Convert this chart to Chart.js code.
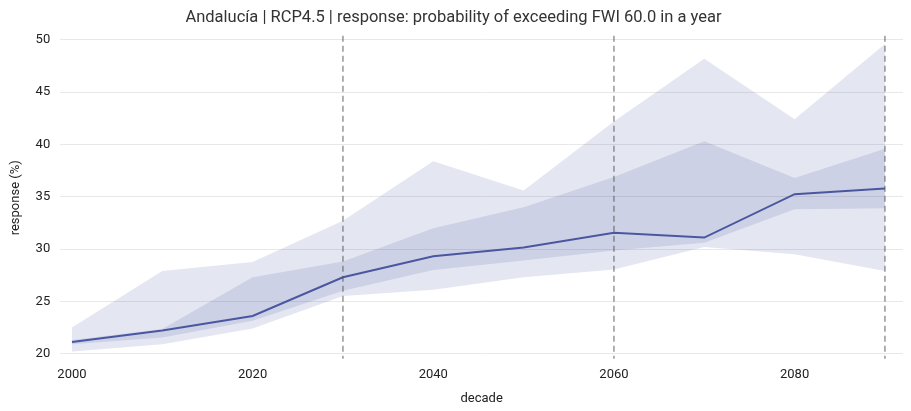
<!DOCTYPE html>
<html>
<head>
<meta charset="utf-8">
<script src="https://cdn.jsdelivr.net/npm/chart.js@4.4.0/dist/chart.umd.min.js"></script>
<style>
  html, body { margin: 0; padding: 0; background: #fff; }
  #wrap { width: 911px; height: 411px; }
</style>
</head>
<body>
<div id="wrap"><canvas id="myChart"></canvas></div>
<script>
// values
const decades = [2000, 2010, 2020, 2030, 2040, 2050, 2060, 2070, 2080, 2090];
const median = [21.1, 22.2, 23.6, 27.3, 29.3, 30.15, 31.55, 31.1, 35.25, 35.8];
const innerUpper = [21.3, 22.35, 27.3, 28.8, 32.0, 34.0, 36.9, 40.3, 36.8, 39.6];
const innerLower = [20.9, 21.55, 23.15, 26.0, 28.0, 28.9, 29.85, 30.6, 33.8, 33.9];
const outerUpper = [22.5, 27.9, 28.75, 32.7, 38.4, 35.6, 42.2, 48.2, 42.4, 49.6];
const outerLower = [20.2, 20.9, 22.4, 25.5, 26.1, 27.3, 28.05, 30.2, 29.5, 27.9];
const xTicks = [2000, 2020, 2040, 2060, 2080];
const yTicks = [20, 25, 30, 35, 40, 45, 50];
const markedDecades = [2030, 2060, 2090];

const lineColor = 'rgb(76, 88, 160)';
const bandColor = 'rgba(76, 88, 160, 0.15)';

function pts(values) {
    return decades.map((d, i) => ({ x: d, y: values[i] }));
}

// dashed vertical lines at marked decades
const vlines = {
    id: 'vlines',
    afterDatasetsDraw(chart) {
        const { ctx, chartArea, scales } = chart;
        ctx.save();
        ctx.strokeStyle = 'rgba(80, 80, 80, 0.6)';
        ctx.lineWidth = 1.5;
        ctx.setLineDash([6, 4]);
        markedDecades.forEach(d => {
            const x = scales.x.getPixelForValue(d);
            ctx.beginPath();
            ctx.moveTo(x, chartArea.top - 2);
            ctx.lineTo(x, chartArea.bottom + 1);
            ctx.stroke();
        });
        ctx.restore();
    }
};

const tickFont = { family: 'Roboto', size: 13 };

new Chart(document.getElementById('myChart'), {
    type: 'line',
    data: {
        datasets: [
            { data: pts(outerUpper), fill: '+1', backgroundColor: bandColor, borderWidth: 0, pointRadius: 0 },
            { data: pts(outerLower), fill: false, borderWidth: 0, pointRadius: 0 },
            { data: pts(innerUpper), fill: '+1', backgroundColor: bandColor, borderWidth: 0, pointRadius: 0 },
            { data: pts(innerLower), fill: false, borderWidth: 0, pointRadius: 0 },
            { data: pts(median), fill: false, borderColor: lineColor, borderWidth: 2, pointRadius: 0 }
        ]
    },
    options: {
        responsive: true,
        maintainAspectRatio: false,
        animation: false,
        layout: { padding: { left: 4, right: 8, top: 0, bottom: 4 } },
        plugins: {
            legend: { display: false },
            tooltip: { enabled: false },
            title: {
                display: true,
                text: 'Andalucía | RCP4.5 | response: probability of exceeding FWI 60.0 in a year',
                color: '#333',
                font: { family: 'Roboto', size: 16.5, weight: 'normal' },
                padding: { top: 8, bottom: 10 }
            }
        },
        scales: {
            x: {
                type: 'linear',
                min: 1998.7,
                max: 2092,
                afterBuildTicks: axis => { axis.ticks = xTicks.map(v => ({ value: v })); },
                ticks: { color: '#222', font: tickFont, padding: 9, callback: v => String(v) },
                grid: { display: false, drawTicks: false },
                border: { display: false },
                title: { display: true, text: 'decade', color: '#222', font: tickFont, padding: { top: 0, bottom: 0 } }
            },
            y: {
                min: 19.6,
                max: 50.2,
                afterBuildTicks: axis => { axis.ticks = yTicks.map(v => ({ value: v })); },
                ticks: { color: '#222', font: tickFont, padding: 10 },
                grid: { color: '#e8e8e8', drawTicks: false },
                border: { display: false },
                title: { display: true, text: 'response (%)', color: '#222', font: tickFont, padding: { bottom: 2 } }
            }
        }
    },
    plugins: [vlines]
});
</script>
</body>
</html>
